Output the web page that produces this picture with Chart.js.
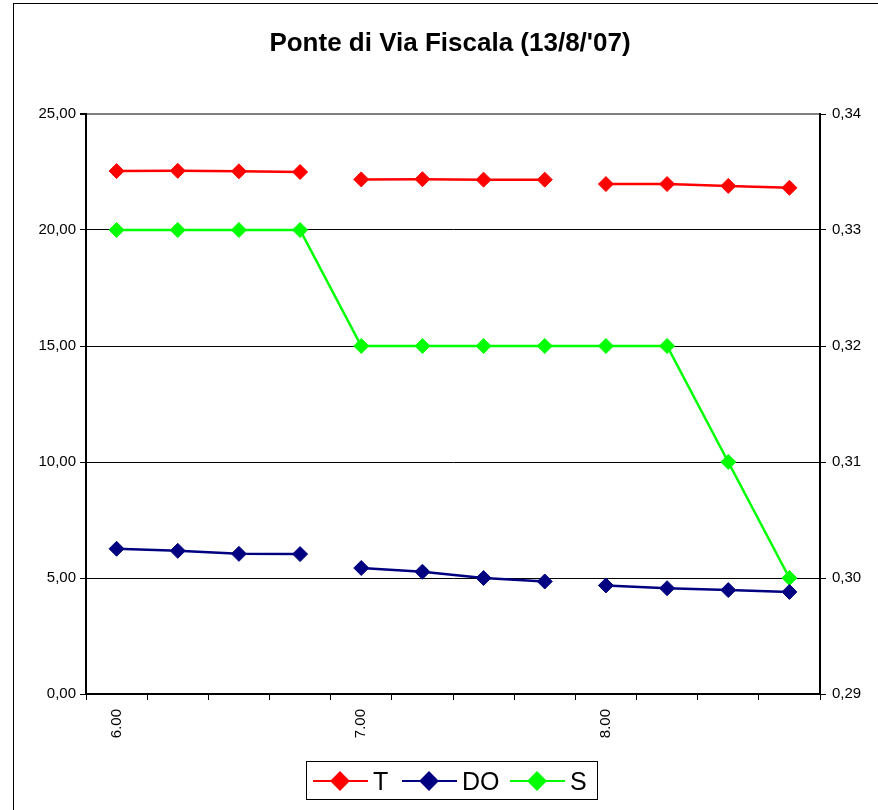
<!DOCTYPE html>
<html>
<head>
<meta charset="utf-8">
<script src="https://cdn.jsdelivr.net/npm/chart.js@4/dist/chart.umd.min.js"></script>
<style>
  body { margin: 0; background: #fff; font-family: "Liberation Sans", Arial, sans-serif; }
  #wrap { position: relative; width: 878px; height: 810px; overflow: hidden; }
  #frame { position: absolute; left: 13px; top: 3px; width: 900px; height: 900px; border-left: 1.5px solid #000; border-top: 1.5px solid #000; }
  #titolo { position: absolute; left: 0; width: 900px; top: 27px; text-align: center; font-weight: bold; font-size: 26px; color: #000; }
  #legenda { position: absolute; left: 306px; top: 761px; width: 290px; height: 37px; border: 1px solid #000; background: #fff; }
  .voce { position: absolute; top: 0; height: 37px; }
  .linea { position: absolute; top: 18px; width: 55px; height: 2px; }
  .rombo { position: absolute; top: 12px; width: 14px; height: 14px; transform: rotate(45deg); }
  .nome { position: absolute; top: 5px; font-size: 25px; color: #000; }
</style>
</head>
<body>
<div id="wrap">
  <canvas id="grafico" width="878" height="810"></canvas>
  <div id="frame"></div>
  <div id="titolo">Ponte di Via Fiscala (13/8/'07)</div>
  <div id="legenda"></div>
</div>
<script>
// dati
const orari = ['6.00', '6.15', '6.30', '6.45', '7.00', '7.15', '7.30', '7.45', '8.00', '8.15', '8.30', '8.45'];
const valoriT = [22.54, 22.55, 22.53, 22.50, 22.18, 22.19, 22.17, 22.17, 21.98, 21.98, 21.90, 21.82];
const valoriDO = [6.26, 6.17, 6.04, 6.03, 5.43, 5.27, 5.00, 4.85, 4.68, 4.56, 4.48, 4.40];
const valoriS = [0.33, 0.33, 0.33, 0.33, 0.32, 0.32, 0.32, 0.32, 0.32, 0.32, 0.31, 0.30];
const interruzioni = [3, 7]; // T e DO non collegati dopo questi punti
const tickSinistra = [0, 5, 10, 15, 20, 25];
const tickDestra = [0.29, 0.30, 0.31, 0.32, 0.33, 0.34];

const colori = { T: '#ff0000', DO: '#000080', S: '#00ff00' };

function virgola(v, dec) {
  return v.toFixed(dec).replace('.', ',');
}

function tratto(ctx) {
  return interruzioni.includes(ctx.p0DataIndex) ? 'rgba(0,0,0,0)' : undefined;
}

function serie(nome, dati, asse, spezza) {
  const s = {
    label: nome,
    data: dati,
    yAxisID: asse,
    borderColor: colori[nome],
    backgroundColor: colori[nome],
    borderWidth: 2.5,
    pointStyle: 'rectRot',
    pointRadius: 7.5,
    pointBorderWidth: 1,
    pointHoverRadius: 7.5,
    tension: 0
  };
  if (spezza) s.segment = { borderColor: tratto };
  return s;
}

const font = { family: '"Liberation Sans", Arial, sans-serif', size: 15 };

var ctx = document.getElementById('grafico').getContext('2d');
var grafico = new Chart(ctx, {
  type: 'line',
  data: {
    labels: orari,
    datasets: [
      serie('T', valoriT, 'y', true),
      serie('DO', valoriDO, 'y', true),
      serie('S', valoriS, 'y1', false)
    ]
  },
  options: {
    responsive: false,
    animation: false,
    layout: { padding: { top: 114, left: 0, right: 0, bottom: 0 } },
    plugins: { legend: { display: false }, title: { display: false }, tooltip: { enabled: false } },
    scales: {
      x: {
        type: 'category',
        offset: true,
        afterFit: function (scale) { scale.height = 116; },
        grid: { offset: true, drawOnChartArea: false, drawTicks: true, tickLength: 6, color: '#000', lineWidth: 1 },
        border: { color: '#000', width: 2 },
        ticks: {
          autoSkip: false,
          minRotation: 90,
          maxRotation: 90,
          padding: 9,
          color: '#000',
          font: font,
          callback: function (v, i) { return i % 4 === 0 ? orari[i] : ''; }
        }
      },
      y: {
        position: 'left',
        min: tickSinistra[0],
        max: tickSinistra[tickSinistra.length - 1],
        afterFit: function (scale) { scale.width = 86; },
        afterBuildTicks: function (scale) { scale.ticks = tickSinistra.map(v => ({ value: v })); },
        grid: {
          color: c => (c.tick && c.tick.value === 25 ? '#808080' : '#000'),
          lineWidth: c => (c.tick && c.tick.value === 25 ? 2 : 1),
          tickColor: '#000',
          tickLength: 6
        },
        border: { color: '#000', width: 2 },
        ticks: { padding: 4, color: '#000', font: font, callback: v => virgola(v, 2) }
      },
      y1: {
        position: 'right',
        min: tickDestra[0],
        max: tickDestra[tickDestra.length - 1],
        afterFit: function (scale) { scale.width = 878 - 820; },
        afterBuildTicks: function (scale) { scale.ticks = tickDestra.map(v => ({ value: v })); },
        grid: { drawOnChartArea: false, color: '#000', tickLength: 6 },
        border: { color: '#000', width: 2 },
        ticks: { padding: 6, color: '#000', font: font, callback: v => virgola(v, 2) }
      }
    }
  }
});

// legenda come nel foglio Excel
const voci = [
  { nome: 'T', x: 6 },
  { nome: 'DO', x: 95 },
  { nome: 'S', x: 203 }
];
const legenda = document.getElementById('legenda');
voci.forEach(function (v) {
  const d = document.createElement('div');
  d.className = 'voce';
  d.style.left = v.x + 'px';
  d.innerHTML =
    `<span class="linea" style="left:0;background:${colori[v.nome]}"></span>` +
    `<span class="rombo" style="left:20px;background:${colori[v.nome]}"></span>` +
    `<span class="nome" style="left:60px">${v.nome}</span>`;
  legenda.appendChild(d);
});
</script>
</body>
</html>
